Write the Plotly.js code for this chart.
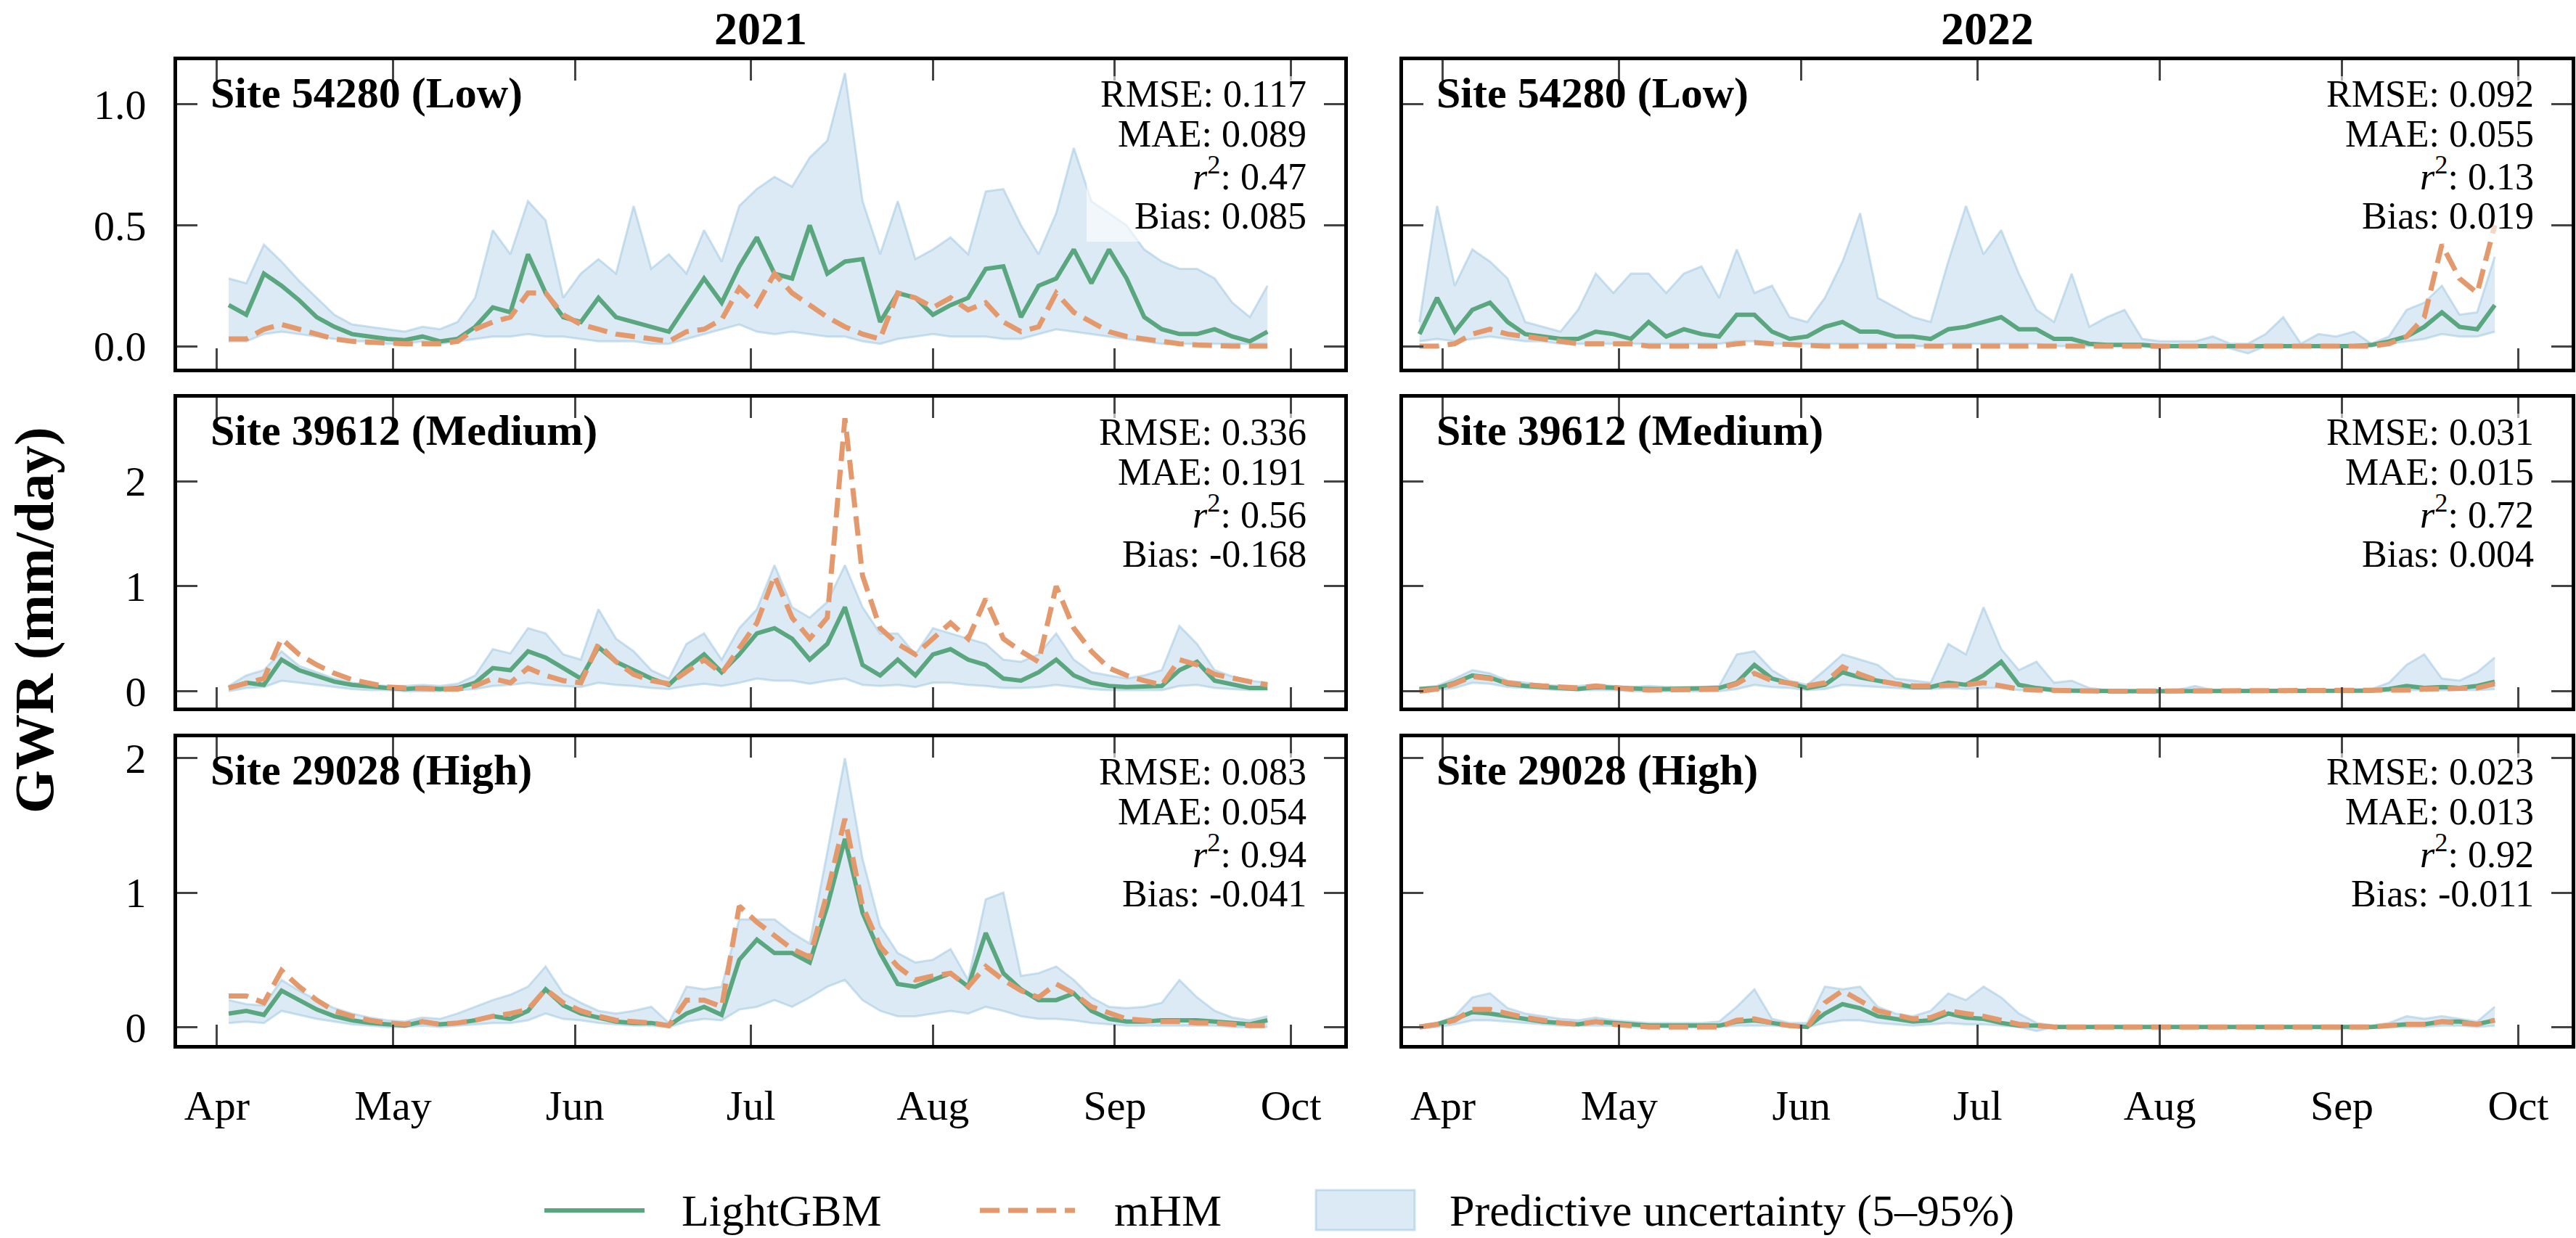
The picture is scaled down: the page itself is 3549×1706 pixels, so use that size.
<!DOCTYPE html>
<html><head><meta charset="utf-8">
<script src="https://cdn.plot.ly/plotly-3.0.1.min.js"></script>
<style>html,body{margin:0;padding:0;background:#fff}#chart{width:3549px;height:1706px}</style>
</head><body><div id="chart"></div>
<script>
// ---------- sampling grid (days after 1 April) ----------
const offsets2021 = []; for (let o = 2; o <= 179; o += 3) offsets2021.push(o);
const offsets2022 = []; for (let o = -4; o <= 179; o += 3) offsets2022.push(o);
const monthTicks = ['04-01','05-01','06-01','07-01','08-01','09-01','10-01'];
const monthLabels = ['Apr','May','Jun','Jul','Aug','Sep','Oct'];
const yearTitles = ['2021','2022'];
const siteNames = ['Site 54280 (Low)','Site 39612 (Medium)','Site 29028 (High)'];
const seriesNames = ['LightGBM','mHM','Predictive uncertainty (5–95%)'];

// ---------- 2021 Site 54280 ----------
const lgbm_54280_2021 = [.17,.13,.30,.25,.19,.12,.08,.05,.04,.03, .025,.04,.02,.03,.08,.16,.14,.38,.22,.12, .10,.20,.12,.10,.08,.06,.17,.28,.18,.33, .45,.30,.28,.50,.30,.35,.36,.10,.22,.20, .13,.17,.20,.32,.33,.12,.25,.28,.40,.26, .40,.28,.12,.07,.05,.05,.07,.04,.02,.06];
const mhm_54280_2021 = [.03,.03,.07,.09,.07,.05,.03,.02,.015,.01, .01,.01,.01,.02,.07,.10,.12,.22,.22,.13, .09,.07,.05,.04,.03,.02,.06,.07,.11,.24, .17,.30,.22,.17,.12,.08,.05,.03,.22,.20, .16,.20,.15,.18,.10,.06,.08,.22,.14,.10, .06,.04,.03,.015,.01,.005,0,0,0,0];
const q05_54280_2021 = [.02,.02,.05,.06,.05,.04,.03,.02,.02,.01, .01,.02,.01,.02,.03,.04,.04,.05,.04,.04, .03,.02,.02,.02,.01,.01,.03,.05,.07,.09, .06,.05,.06,.05,.04,.04,.02,.01,.03,.04, .05,.04,.04,.04,.03,.03,.05,.07,.06,.05, .04,.03,.02,.01,.01,.01,.01,.01,.01,.01];
const q95_54280_2021 = [.28,.26,.42,.35,.27,.20,.13,.09,.08,.07, .06,.08,.07,.10,.20,.48,.38,.60,.52,.20, .30,.36,.30,.58,.32,.38,.30,.48,.35,.58, .65,.70,.66,.78,.85,1.13,.60,.38,.60,.36, .40,.45,.38,.64,.65,.50,.38,.55,.82,.60, .55,.50,.40,.35,.32,.32,.28,.18,.12,.25];

// ---------- 2021 Site 39612 ----------
const lgbm_39612_2021 = [.03,.08,.06,.30,.20,.14,.09,.06,.04,.03, .02,.03,.02,.03,.08,.22,.20,.38,.32,.22, .12,.42,.28,.20,.12,.06,.22,.35,.18,.35, .55,.60,.50,.30,.45,.80,.25,.15,.30,.15, .35,.40,.30,.25,.12,.10,.18,.30,.15,.08, .05,.04,.04,.05,.20,.28,.10,.07,.03,.03];
const mhm_39612_2021 = [.03,.08,.12,.50,.35,.25,.17,.11,.07,.04, .03,.02,.02,.02,.05,.12,.08,.22,.15,.10, .08,.45,.28,.16,.10,.07,.18,.30,.17,.40, .65,1.10,.70,.50,.70,2.60,1.10,.60,.45,.35, .50,.65,.50,.88,.50,.38,.28,1.00,.60,.38, .22,.15,.10,.06,.30,.25,.16,.12,.09,.06];
const q05_39612_2021 = [0,.03,.04,.10,.08,.06,.04,.02,.01,.01, 0,0,0,.01,.02,.05,.06,.08,.06,.05, .04,.08,.06,.05,.03,.02,.05,.07,.05,.08, .12,.10,.10,.07,.10,.12,.06,.05,.06,.04, .08,.08,.06,.05,.03,.03,.04,.06,.04,.02, .01,.01,.01,.01,.05,.06,.03,.02,.01,.01];
const q95_39612_2021 = [.05,.15,.20,.38,.24,.18,.12,.08,.06,.05, .05,.06,.05,.07,.15,.40,.36,.60,.55,.35, .30,.78,.50,.38,.20,.12,.45,.55,.30,.60, .78,1.20,.80,.70,.85,1.20,.80,.55,.55,.35, .60,.55,.50,.45,.30,.28,.35,.55,.30,.18, .15,.12,.15,.20,.62,.45,.20,.14,.10,.08];

// ---------- 2021 Site 29028 ----------
const lgbm_29028_2021 = [.10,.12,.09,.27,.20,.13,.08,.05,.03,.02, .01,.04,.02,.03,.05,.08,.06,.12,.28,.16, .10,.07,.04,.03,.03,.01,.10,.15,.09,.50, .65,.55,.55,.48,.90,1.40,.85,.55,.32,.30, .35,.40,.30,.70,.40,.28,.20,.20,.25,.12, .06,.04,.04,.05,.05,.05,.04,.03,.02,.05];
const mhm_29028_2021 = [.23,.23,.18,.42,.30,.20,.12,.08,.05,.03, .02,.04,.02,.03,.05,.08,.10,.13,.28,.18, .12,.08,.05,.04,.03,.01,.20,.20,.15,.90, .78,.68,.58,.52,1.00,1.55,.90,.60,.45,.35, .38,.40,.30,.45,.35,.27,.22,.32,.25,.15, .10,.06,.05,.04,.04,.03,.03,.02,.01,.01];
const q05_29028_2021 = [.03,.04,.03,.12,.09,.06,.04,.02,.01,0, 0,.01,0,.01,.02,.03,.03,.05,.10,.06, .05,.03,.02,.01,.01,0,.04,.06,.05,.13, .15,.20,.15,.22,.30,.35,.20,.12,.08,.08, .10,.12,.10,.15,.12,.08,.06,.06,.05,.03, .02,.01,.01,.01,.01,.01,.01,0,0,0];
const q95_29028_2021 = [.20,.17,.16,.35,.27,.20,.14,.10,.07,.05, .04,.07,.06,.10,.15,.20,.24,.30,.45,.25, .18,.12,.10,.12,.15,.03,.30,.28,.30,.80, .80,.80,.70,.62,1.30,2.00,1.25,.75,.55,.48, .50,.58,.35,.95,1.00,.38,.40,.45,.35,.22, .15,.14,.15,.18,.35,.22,.12,.07,.05,.08];

// ---------- 2022 Site 54280 ----------
const lgbm_54280_2022 = [.05,.20, .06,.15,.18,.10,.05,.04,.03,.03,.06,.05, .03,.10,.04,.07,.05,.04,.13,.13,.06,.03, .04,.08,.10,.06,.06,.04,.04,.03,.07,.08, .10,.12,.07,.07,.03,.03,.01,.005,.005,.005, 0,0,0,0,0,0,0,0,0,0, 0,0,.005,.02,.04,.08,.14,.08,.07,.17];
const mhm_54280_2022 = [0,0, .01,.05,.07,.05,.04,.03,.02,.01,.01,.01, .01,0,0,0,0,0,.01,.015,.01,.005, .005,0,0,0,0,0,0,0,0,0, 0,0,0,0,0,0,0,0,0,0, 0,0,0,0,0,0,0,0,0,0, 0,0,0,.01,.04,.12,.42,.28,.22,.50];
const q05_54280_2022 = [.02,.03, .02,.03,.04,.03,.02,.02,.01,.01,.01,.01, .01,.01,.01,.01,.01,.01,.02,.02,.01,.01, .01,.01,.01,.01,.01,.01,0,0,.01,.01, .01,.01,.01,.01,0,0,0,0,0,0, -.01,0,0,0,-.01,-.03,0,0,0,0, 0,0,0,.01,.02,.03,.05,.04,.04,.06];
const q95_54280_2022 = [.10,.58, .25,.40,.35,.28,.10,.08,.06,.15,.30,.22, .30,.30,.22,.30,.33,.20,.40,.22,.25,.12, .10,.20,.35,.55,.20,.16,.12,.10,.35,.58, .38,.48,.30,.15,.10,.30,.08,.12,.15,.03, .02,.02,.02,.04,.01,.01,.05,.12,.01,.05, .04,.06,.01,.04,.15,.18,.25,.13,.14,.37];

// ---------- 2022 Site 39612 ----------
const lgbm_39612_2022 = [.02,.03, .08,.15,.13,.07,.05,.04,.03,.02,.04,.03, .02,.02,.02,.02,.02,.03,.08,.25,.12,.08, .03,.06,.18,.13,.10,.06,.04,.04,.08,.06, .15,.28,.06,.03,.01,.005,0,0,0,0, 0,0,0,0,0,0,0,0,0,0, 0,0,.005,.02,.05,.03,.04,.03,.05,.09];
const mhm_39612_2022 = [0,.02, .07,.14,.12,.08,.06,.05,.04,.03,.05,.03, .02,.01,.01,.01,.01,.02,.07,.17,.10,.07, .05,.08,.23,.16,.10,.07,.05,.05,.05,.06, .08,.05,.02,.01,.005,0,0,0,0,0, 0,0,0,0,0,0,0,0,0,0, 0,0,0,.01,.01,.02,.02,.02,.03,.07];
const q05_39612_2022 = [0,.01, .03,.08,.07,.04,.03,.02,.01,.01,.01,.01, 0,0,0,0,0,0,.02,.06,.04,.03, .01,.02,.06,.05,.04,.03,.02,.02,.03,.02, .03,.03,.01,.01,0,0,0,0,0,0, 0,0,0,0,0,0,0,0,0,0, 0,0,0,0,.01,.01,.01,.01,.01,.02];
const q95_39612_2022 = [.03,.05, .12,.20,.17,.10,.08,.06,.05,.05,.06,.05, .04,.05,.04,.04,.04,.05,.35,.38,.20,.10, .06,.20,.35,.30,.25,.12,.10,.08,.45,.35, .80,.40,.20,.28,.08,.10,.03,.01,.01,.01, .01,.01,.05,.01,.01,.01,.01,.01,.01,.01, .01,.02,.02,.08,.25,.35,.12,.10,.18,.32];

// ---------- 2022 Site 29028 ----------
const lgbm_29028_2022 = [0,.02, .06,.11,.10,.08,.06,.04,.03,.02,.04,.03, .02,.01,.01,.01,.01,.01,.04,.05,.03,.01, 0,.10,.17,.14,.08,.06,.04,.05,.10,.07, .06,.03,.01,.01,0,0,0,0,0,0, 0,0,0,0,0,0,0,0,0,0, 0,0,0,.01,.02,.02,.04,.04,.02,.05];
const mhm_29028_2022 = [0,.02, .05,.13,.13,.10,.07,.05,.03,.02,.04,.02, .01,0,0,0,0,0,.05,.06,.03,.01, 0,.18,.27,.20,.12,.09,.06,.07,.12,.10, .08,.05,.02,.01,0,0,0,0,0,0, 0,0,0,0,0,0,0,0,0,0, 0,0,0,.01,.02,.02,.04,.03,.02,.05];
const q05_29028_2022 = [-.01,0, .02,.05,.05,.04,.03,.02,.01,.01,.01,.01, 0,0,0,0,0,0,.01,.01,.01,0, 0,.03,.05,.05,.03,.02,.01,.02,.03,.02, .02,.01,0,-.03,0,0,0,0,0,0, 0,0,0,0,0,0,0,0,0,0, 0,0,0,0,0,0,.01,.01,0,.01];
const q95_29028_2022 = [.01,.03, .08,.22,.25,.14,.10,.08,.06,.05,.07,.05, .04,.03,.03,.03,.03,.04,.15,.28,.06,.03, .03,.30,.28,.30,.15,.10,.08,.12,.25,.20, .30,.22,.10,.03,.01,.01,.01,.01,.01,.01, .01,.01,.01,.01,.01,.01,.01,.01,.01,.01, .01,.01,.01,.03,.08,.06,.08,.06,.04,.15];

// ---------- metrics ----------
const rmse = [['0.117','0.092'],['0.336','0.031'],['0.083','0.023']];
const mae  = [['0.089','0.055'],['0.191','0.015'],['0.054','0.013']];
const r2   = [['0.47','0.13'],['0.56','0.72'],['0.94','0.92']];
const bias = [['0.085','0.019'],['-0.168','0.004'],['-0.041','-0.011']];

// y axes per row
const yRanges = [[-0.093,1.183],[-0.156,2.796],[-0.134,2.156]];
const yTickVals = [[0,0.5,1.0],[0,1,2],[0,1,2]];
const yTickText = [['0.0','0.5','1.0'],['0','1','2'],['0','1','2']];

// ---------- styling / layout ----------
const FIG_W = 3549, FIG_H = 1706;
const FONT = 'Liberation Serif, "Times New Roman", Times, serif';
const GREEN = '#5aa77f', ORANGE = '#e3996c';
const BAND_FILL = 'rgba(160,200,225,0.38)', BAND_EDGE = 'rgba(160,200,225,0.55)';
const colPx = [[244,1852],[1933,3543]];
const rowPx = [[83,508],[548,975],[1016,1440]];

function toDates(year, offs) {
  return offs.map(o => { const d = new Date(Date.UTC(year, 3, 1)); d.setUTCDate(d.getUTCDate() + o); return d.toISOString().slice(0, 10); });
}
const dates2021 = toDates(2021, offsets2021);
const dates2022 = toDates(2022, offsets2022);

const panelData = [
  [[dates2021, lgbm_54280_2021, mhm_54280_2021, q05_54280_2021, q95_54280_2021],
   [dates2022, lgbm_54280_2022, mhm_54280_2022, q05_54280_2022, q95_54280_2022]],
  [[dates2021, lgbm_39612_2021, mhm_39612_2021, q05_39612_2021, q95_39612_2021],
   [dates2022, lgbm_39612_2022, mhm_39612_2022, q05_39612_2022, q95_39612_2022]],
  [[dates2021, lgbm_29028_2021, mhm_29028_2021, q05_29028_2021, q95_29028_2021],
   [dates2022, lgbm_29028_2022, mhm_29028_2022, q05_29028_2022, q95_29028_2022]]
];

const traces = [], annotations = [], shapes = [];
const layout = {
  width: FIG_W, height: FIG_H, margin: {l: 0, r: 0, t: 0, b: 0},
  paper_bgcolor: '#fff', plot_bgcolor: '#fff', showlegend: false,
  font: {family: FONT, color: '#000', size: 52}
};

for (let r = 0; r < 3; r++) {
  for (let c = 0; c < 2; c++) {
    const i = r * 2 + c + 1;
    const xa = i === 1 ? 'x' : 'x' + i, ya = i === 1 ? 'y' : 'y' + i;
    const year = 2021 + c;
    const [dts, lg, mh, lo, hi] = panelData[r][c];
    traces.push({x: dts, y: lo, xaxis: xa, yaxis: ya, type: 'scatter', mode: 'lines',
      line: {color: BAND_EDGE, width: 3}, hoverinfo: 'skip', name: seriesNames[2]});
    traces.push({x: dts, y: hi, xaxis: xa, yaxis: ya, type: 'scatter', mode: 'lines', fill: 'tonexty',
      fillcolor: BAND_FILL, line: {color: BAND_EDGE, width: 3}, name: seriesNames[2]});
    traces.push({x: dts, y: lg, xaxis: xa, yaxis: ya, type: 'scatter', mode: 'lines',
      line: {color: GREEN, width: 6}, name: seriesNames[0]});
    traces.push({x: dts, y: mh, xaxis: xa, yaxis: ya, type: 'scatter', mode: 'lines',
      line: {color: ORANGE, width: 7, dash: '27px,12px'}, name: seriesNames[1]});

    const common = {showline: true, linecolor: '#000', linewidth: 5, mirror: 'allticks',
      ticks: 'inside', ticklen: 28, tickwidth: 3, tickcolor: '#444', showgrid: false, zeroline: false,
      tickfont: {family: FONT, size: 58, color: '#000'}};
    layout[i === 1 ? 'xaxis' : 'xaxis' + i] = Object.assign({}, common, {
      type: 'date', anchor: ya,
      domain: [colPx[c][0] / FIG_W, colPx[c][1] / FIG_W],
      range: [year + '-03-25 05:00', year + '-10-10 02:00'],
      tickmode: 'array', tickvals: monthTicks.map(m => year + '-' + m), ticktext: monthLabels,
      showticklabels: r === 2, ticklabelstandoff: 28
    });
    layout[i === 1 ? 'yaxis' : 'yaxis' + i] = Object.assign({}, common, {
      anchor: xa,
      domain: [1 - rowPx[r][1] / FIG_H, 1 - rowPx[r][0] / FIG_H],
      range: yRanges[r], tickmode: 'array', tickvals: yTickVals[r], ticktext: yTickText[r],
      showticklabels: c === 0, ticklabelstandoff: 26
    });

    const W = colPx[c][1] - colPx[c][0], H = rowPx[r][1] - rowPx[r][0];
    // site label
    annotations.push({xref: xa + ' domain', yref: ya + ' domain', x: 0, y: 1, xanchor: 'left', yanchor: 'middle',
      xshift: 44, yshift: -45, showarrow: false, text: '<b>' + siteNames[r] + '</b>',
      font: {family: FONT, size: 60, color: '#000'}});
    // stats box background
    shapes.push({type: 'rect', xref: xa + ' domain', yref: ya + ' domain', layer: 'above',
      x0: 1 - 355 / W, x1: 1 - 37 / W, y0: 1 - 250 / H, y1: 1 - 22 / H,
      fillcolor: 'rgba(255,255,255,0.6)', line: {width: 0}});
    const lines = ['RMSE: ' + rmse[r][c], 'MAE: ' + mae[r][c], '<i>r</i><sup>2</sup>: ' + r2[r][c], 'Bias: ' + bias[r][c]];
    const shifts = [-47, -102, -157, -215];
    lines.forEach((t, k) => annotations.push({xref: xa + ' domain', yref: ya + ' domain', x: 1, y: 1,
      xanchor: 'right', yanchor: 'middle', xshift: -50, yshift: shifts[k], showarrow: false, text: t,
      font: {family: FONT, size: 52, color: '#000'}}));
  }
}

// column titles
yearTitles.forEach((t, c) => annotations.push({xref: 'paper', yref: 'paper',
  x: (colPx[c][0] + colPx[c][1]) / 2 / FIG_W, y: 1, xanchor: 'center', yanchor: 'top', yshift: -2,
  showarrow: false, text: '<b>' + t + '</b>', font: {family: FONT, size: 64, color: '#000'}}));
// shared y label
annotations.push({xref: 'paper', yref: 'paper', x: 0, y: 1 - 855 / FIG_H, xanchor: 'left', yanchor: 'middle',
  xshift: 2, textangle: -90, showarrow: false, text: '<b>GWR (mm/day)</b>', font: {family: FONT, size: 77, color: '#000'}});

// legend (drawn with shapes + text)
const legY = 1 - 1668 / FIG_H;
shapes.push({type: 'line', xref: 'paper', yref: 'paper', x0: 750 / FIG_W, x1: 888 / FIG_W, y0: legY, y1: legY,
  line: {color: GREEN, width: 6}});
shapes.push({type: 'line', xref: 'paper', yref: 'paper', x0: 1350 / FIG_W, x1: 1481 / FIG_W, y0: legY, y1: legY,
  line: {color: ORANGE, width: 7, dash: '27px,12px'}});
shapes.push({type: 'rect', xref: 'paper', yref: 'paper', x0: 1813 / FIG_W, x1: 1949 / FIG_W,
  y0: 1 - 1695 / FIG_H, y1: 1 - 1640 / FIG_H, fillcolor: BAND_FILL, line: {color: BAND_EDGE, width: 3}});
[[937, seriesNames[0]], [1533, seriesNames[1]], [1995, seriesNames[2]]].forEach(([px, t]) =>
  annotations.push({xref: 'paper', yref: 'paper', x: px / FIG_W, y: legY, xanchor: 'left', yanchor: 'middle',
    showarrow: false, text: t, font: {family: FONT, size: 62, color: '#000'}}));

layout.annotations = annotations;
layout.shapes = shapes;
Plotly.newPlot('chart', traces, layout, {staticPlot: true, displayModeBar: false});
</script></body></html>
